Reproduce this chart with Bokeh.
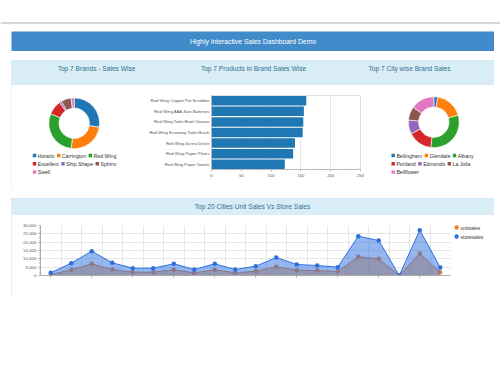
import math
from bokeh.plotting import figure
from bokeh.models import (ColumnDataSource, Range1d, FactorRange, LabelSet,
                          FixedTicker, SingleIntervalTicker, NumeralTickFormatter, Span, Spacer)
from bokeh.layouts import column, row
from bokeh.embed import file_html
from bokeh.resources import INLINE
from bokeh.core.properties import value

# ---------------- data ----------------
page_title = "Highly Interactive Sales Dashboard Demo"
panel_titles = ["Top 7 Brands - Sales Wise", "Top 7 Products in Brand Sales Wise",
                "Top 7 City wise Brand Sales"]
line_title = "Top 20 Cities Unit Sales Vs Store Sales"

brands = ["Horatio", "Carrington", "Red Wing", "Excellent", "Ship Shape", "Sphinx", "Swell"]
brand_sales = [990, 880, 1050, 330, 50, 230, 70]

products = ["Red Wing Copper Pot Scrubber", "Red Wing AAA-Size Batteries",
            "Red Wing Toilet Bowl Cleaner", "Red Wing Economy Toilet Brush",
            "Red Wing Screw Driver", "Red Wing Paper Plates", "Red Wing Paper Towels"]
product_sales = [159, 155, 154, 153, 140, 137, 123]

cities7 = ["Bellingham", "Glendale", "Albany", "Portland", "Edmonds", "La Jolla", "Bellflower"]
city_sales = [90, 650, 1130, 560, 320, 310, 540]

cities20 = ["Bellingham", "Glendale", "Albany", "Portland", "Edmonds", "La Jolla",
            "Bellflower", "Salem", "Burbank", "Spokane", "Torrance", "Beaverton",
            "Chula Vista", "Yakima", "Kirkland", "Seattle", "Lebanon", "Tacoma",
            "Olympia", "Bremerton"]
unitsales = [600, 3400, 7000, 3600, 2000, 2000, 3400, 1600, 3400, 1600, 2600, 5200,
             3200, 3000, 2400, 11200, 10000, 0, 13200, 2000]
storesales = [1600, 7400, 14600, 7600, 4400, 4400, 7000, 3600, 7000, 3600, 5600, 10800,
              6600, 6000, 5000, 23600, 21000, 0, 27200, 4800]
series_names = ["unitsales", "storesales"]
series_colors = ["#f07d2a", "#2f6fdc"]

palette = ["#1f77b4", "#ff7f0e", "#2ca02c", "#d62728", "#9467bd", "#8c564b", "#e377c2"]

FONT = "Liberation Sans"

# approximate advance widths (per 1000 em) of an Arial-metric font, for legend flow layout
_CW = {" ": 278, "-": 333, "a": 556, "b": 556, "c": 500, "d": 556, "e": 556, "f": 278,
       "g": 556, "h": 556, "i": 222, "j": 222, "k": 500, "l": 222, "m": 833, "n": 556,
       "o": 556, "p": 556, "q": 556, "r": 333, "s": 500, "t": 278, "u": 556, "v": 500,
       "w": 722, "x": 500, "y": 500, "z": 500, "A": 667, "B": 667, "C": 722, "D": 722,
       "E": 667, "F": 611, "G": 778, "H": 722, "I": 278, "J": 500, "K": 667, "L": 556,
       "M": 833, "N": 722, "O": 778, "P": 667, "R": 722, "S": 667, "T": 611, "W": 944}


def text_width(s, size):
    return sum(_CW.get(ch, 556) for ch in s) / 1000.0 * size


def blank(w, h, fill="white", xr=None, yr=None):
    p = figure(width=w, height=h,
               x_range=xr if xr is not None else Range1d(0, w),
               y_range=yr if yr is not None else Range1d(h, 0),
               x_axis_type=None, y_axis_type=None, toolbar_location=None,
               output_backend="svg", min_border=0, outline_line_color=None,
               background_fill_color=fill, border_fill_color=fill)
    p.frame_align = False
    return p


# ---------------- top strip ----------------
top = blank(500, 31)
top.add_layout(Span(location=22.5, dimension="width", line_color="#c9c9c9", line_width=1.5))

# ---------------- banner ----------------
banner = blank(483, 20, fill="#428bca")
banner.text(x=[241.5], y=[10], text=[page_title], text_color="white",
            text_font=value(FONT), text_font_size="6.8px",
            text_align="center", text_baseline="middle")

# ---------------- panel 1 header ----------------
head1 = blank(483, 25, fill="#d9edf7")
head1.text(x=[85, 242, 398], y=[8, 8, 8], text=panel_titles, text_color="#31708f",
           text_font=value(FONT), text_font_size="6.6px",
           text_align="center", text_baseline="middle")


# ---------------- donuts ----------------
def donut(w, cx, cy, labels, vals, legend_x, legend_y, rows):
    h = 105
    p = blank(w, h, xr=Range1d(-cx, w - cx), yr=Range1d(-(h - cy), cy))
    total = float(sum(vals))
    starts, ends, acc = [], [], 0.0
    for v in vals:
        starts.append(math.pi / 2 - 2 * math.pi * acc / total)
        acc += v
        ends.append(math.pi / 2 - 2 * math.pi * acc / total)
    colors = palette[:len(vals)]
    src = ColumnDataSource(dict(label=labels, value=vals, start=starts, end=ends,
                                color=colors))
    p.annular_wedge(x=0, y=0, inner_radius=15.2, outer_radius=25.4,
                    start_angle="start", end_angle="end", direction="clock",
                    fill_color="color", line_color="white", line_width=0.6,
                    source=src)
    # legend: flowing rows of colour squares and labels
    fs = 5.2
    sq_x, sq_y, sq_c, tx, ty, tt = [], [], [], [], [], []
    for ri, idxs in enumerate(rows):
        x = legend_x
        y = legend_y - ri * 8.3
        for i in idxs:
            sq_x.append(x); sq_y.append(y); sq_c.append(colors[i])
            tx.append(x + 3.2); ty.append(y); tt.append(labels[i])
            x += 3.2 + text_width(labels[i], fs) + 4.2
    p.scatter(x=sq_x, y=sq_y, marker="square", size=3.4, fill_color=sq_c, line_color=None)
    p.text(x=tx, y=ty, text=tt, text_font=value(FONT), text_font_size=f"{fs}px",
           text_color="#333333", text_align="left", text_baseline="middle")
    return p


d1 = donut(129, 62.7, 37.8, brands, brand_sales, -39.7, -32.2, [[0, 1, 2], [3, 4, 5], [6]])
d2 = donut(119, 58.3, 36.7, cities7, city_sales, -40.6, -33.3, [[0, 1, 2], [3, 4, 5], [6]])

# ---------------- bar chart ----------------
bsrc = ColumnDataSource(dict(product=products, sales=product_sales))
bp = figure(width=235, height=105, y_range=FactorRange(*reversed(products)),
            x_range=Range1d(0, 250), toolbar_location=None, output_backend="svg",
            min_border_left=71, min_border_right=15, min_border_top=10,
            min_border_bottom=21)
bp.hbar(y="product", right="sales", height=0.9, source=bsrc,
        fill_color="#1f77b4", line_color=None)
bp.outline_line_color = "#dddddd"
bp.ygrid.grid_line_color = None
bp.xgrid.grid_line_color = "#e6e6e6"
bp.xaxis.ticker = SingleIntervalTicker(interval=50, num_minor_ticks=2)
for ax in (bp.xaxis[0], bp.yaxis[0]):
    ax.major_label_text_font = FONT
    ax.major_label_text_font_size = "4.2px"
    ax.major_label_text_color = "#555555"
    ax.axis_line_color = "#bbbbbb"
    ax.major_tick_line_color = "#bbbbbb"
    ax.minor_tick_line_color = "#bbbbbb"
    ax.major_tick_in = 0
    ax.major_tick_out = 2
    ax.minor_tick_in = 0
    ax.minor_tick_out = 1
    ax.major_label_standoff = 2
bp.yaxis.major_tick_out = 0
bp.background_fill_color = "white"

# ---------------- panel 2 header ----------------
head2 = blank(483, 17, fill="#d9edf7")
head2.text(x=[241], y=[8.3], text=[line_title], text_color="#31708f",
           text_font=value(FONT), text_font_size="6.6px",
           text_align="center", text_baseline="middle")

# ---------------- line / area chart ----------------
xs = list(range(len(cities20)))
lsrc = ColumnDataSource(dict(x=xs, city=cities20, unit=unitsales, store=storesales))
lp = figure(width=443, height=82, x_range=Range1d(-0.5, len(cities20) - 0.5),
            y_range=Range1d(0, 30000), toolbar_location=None, output_backend="svg",
            min_border_left=29, min_border_right=4, min_border_top=10,
            min_border_bottom=22)
lp.outline_line_color = None
# unitsales drawn first, storesales (semi-transparent) on top
lp.varea(x="x", y1=0, y2="unit", source=lsrc, fill_color="#ff7f0e", fill_alpha=0.5)
lp.line(x="x", y="unit", source=lsrc, line_color="#e07b39", line_width=1)
lp.scatter(x="x", y="unit", source=lsrc, size=4.5, fill_color=series_colors[0],
           line_color=None)
lp.varea(x="x", y1=0, y2="store", source=lsrc, fill_color="#2a70e2", fill_alpha=0.5)
lp.line(x="x", y="store", source=lsrc, line_color="#2f6fdc", line_width=1)
lp.scatter(x="x", y="store", source=lsrc, size=4.5, fill_color=series_colors[1],
           line_color=None)
even = xs[::2]
lp.xaxis.ticker = FixedTicker(ticks=even)
lp.xaxis.major_label_overrides = {i: "" for i in even}
lbl_src = ColumnDataSource(dict(x=even, label=[cities20[i] for i in even]))
lp.add_layout(LabelSet(x="x", y=-3.5, y_units="screen", text="label", source=lbl_src,
                       angle=0.15, text_align="center", text_baseline="top",
                       text_font=value(FONT), text_font_size="4.4px",
                       text_color="#555555"))
lp.yaxis.ticker = SingleIntervalTicker(interval=5000, num_minor_ticks=5)
lp.yaxis.formatter = NumeralTickFormatter(format="0,0")
lp.xgrid.ticker = FixedTicker(ticks=[i + 0.5 for i in range(-1, len(cities20))])
lp.xgrid.grid_line_color = "#e6e6e6"
lp.ygrid.grid_line_color = "#e6e6e6"
for ax in (lp.xaxis[0], lp.yaxis[0]):
    ax.major_label_text_font = FONT
    ax.major_label_text_font_size = "4.4px"
    ax.major_label_text_color = "#555555"
    ax.axis_line_color = "#aaaaaa"
    ax.major_tick_line_color = "#aaaaaa"
    ax.minor_tick_line_color = "#aaaaaa"
    ax.major_tick_in = 0
    ax.major_tick_out = 2
    ax.minor_tick_in = 0
    ax.minor_tick_out = 1
    ax.major_label_standoff = 2
lp.xaxis.minor_tick_line_color = None

# legend of the line chart, in its own small panel at the right
legfig = blank(40, 82)
leg_y = [12 + 9 * k for k in range(len(series_names))]
legfig.scatter(x=[2] * len(series_names), y=leg_y, size=4.5, fill_color=series_colors,
               line_color=None)
legfig.text(x=[6] * len(series_names), y=leg_y, text=series_names,
            text_font=value(FONT), text_font_size="5px", text_color="#333333",
            text_align="left", text_baseline="middle")

# ---------------- layout ----------------
panel1 = column(head1, row(d1, bp, d2),
                styles={"outline": "1px solid #d3ebf4", "outline-offset": "-1px"})
panel2 = column(head2, row(lp, legfig),
                styles={"outline": "1px solid #d3ebf4", "outline-offset": "-1px"})

root = column(
    top,
    row(Spacer(width=11, height=20), banner, Spacer(width=6, height=20)),
    Spacer(width=500, height=9),
    row(Spacer(width=11, height=130), panel1, Spacer(width=6, height=130)),
    Spacer(width=500, height=8),
    row(Spacer(width=11, height=99), panel2, Spacer(width=6, height=99)),
    Spacer(width=500, height=78),
)

open("out.html", "w").write(file_html(root, INLINE, title="Sales Dashboard"))
